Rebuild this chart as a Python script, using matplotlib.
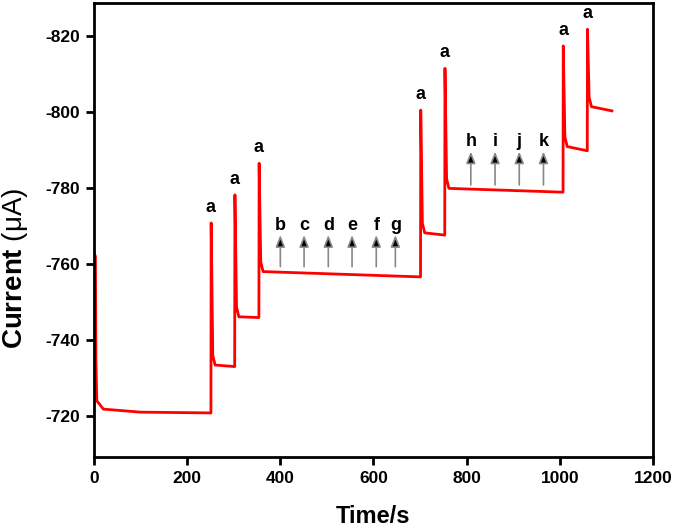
import numpy as np
import matplotlib
matplotlib.use('Agg')
from matplotlib import pyplot as plt

plt.rcParams['font.family'] = ['Liberation Sans', 'DejaVu Sans']
plt.rcParams['mathtext.fontset'] = 'custom'
plt.rcParams['mathtext.bf'] = 'Liberation Sans:bold'
plt.rcParams['mathtext.rm'] = 'Liberation Sans'
plt.rcParams['axes.unicode_minus'] = False

# start of the record (decay after switching on)
start_times = [0, 3, 4, 6, 20, 100, 251]
start_currents = [-763.0, -762.0, -735.0, -724.0, -721.8, -721.0, -720.8]

# each addition: time, peak of the spike, plateau at start and at end
step_times = [251, 302, 354, 701, 753, 1007, 1059]
peak_currents = [-770.8, -778.2, -786.5, -800.5, -811.5, -817.4, -821.8]
plateau_start = [-733.4, -746.1, -758.0, -768.2, -779.9, -790.9, -801.4]
plateau_end = [-733.0, -745.9, -756.6, -767.6, -778.9, -789.8, -800.3]
end_time = 1112

# interferents (arrows)
arrow_labels_1 = ['b', 'c', 'd', 'e', 'f', 'g']
arrow_times_1 = [400, 451, 503, 554, 606, 647]
arrow_labels_2 = ['h', 'i', 'j', 'k']
arrow_times_2 = [809, 861, 913, 965]

# build the trace from the step values
t = list(start_times)
i = list(start_currents)
for n, ts in enumerate(step_times):
    t_next = step_times[n + 1] if n + 1 < len(step_times) else end_time
    t += [ts + 0.5, ts + 4, ts + 9, t_next]
    i += [peak_currents[n], plateau_start[n] - 2.5, plateau_start[n], plateau_end[n]]

fig = plt.figure(figsize=(6.75, 5.32), dpi=100)
ax = fig.add_axes([0.1393, 0.141, 0.828, 0.8534])

ax.plot(t, i, color='#ff0000', lw=2)

ax.set_xlim(0, 1200)
ax.set_ylim(-709.2, -828.7)
ax.set_xticks(np.arange(0, 1201, 200))
ax.set_yticks(np.arange(-720, -821, -20))

for n, ts in enumerate(step_times):
    ax.annotate('a', (ts, peak_currents[n]), xytext=(0, 5), textcoords='offset points',
                ha='center', va='bottom', fontsize=13, fontweight='bold')


def add_arrows(labels, times, base, tip):
    for lab, tx in zip(labels, times):
        ax.annotate('', xy=(tx, tip), xytext=(tx, base),
                    arrowprops=dict(arrowstyle='-|>,head_length=0.7,head_width=0.28',
                                    ec='#888888', fc='black', lw=1.2, shrinkA=0, shrinkB=0))
        ax.text(tx, tip - 0.3, lab, ha='center', va='bottom', fontsize=13, fontweight='bold')


add_arrows(arrow_labels_1, arrow_times_1, -759.3, -767.6)
add_arrows(arrow_labels_2, arrow_times_2, -780.8, -789.6)

for s in ax.spines.values():
    s.set_linewidth(2)
ax.tick_params(direction='out', length=6, width=2, labelsize=12.5, pad=4)
for lab in ax.get_xticklabels() + ax.get_yticklabels():
    lab.set_fontweight('bold')

ax.set_xlabel('Time/s', fontsize=17, fontweight='bold', labelpad=14)
ax.set_ylabel(r'$\mathbf{Current}$ ($\mathrm{\mu}$A)', fontsize=20)
ax.yaxis.set_label_coords(-0.114, 0.416)

fig.savefig('out.png', dpi=100)
